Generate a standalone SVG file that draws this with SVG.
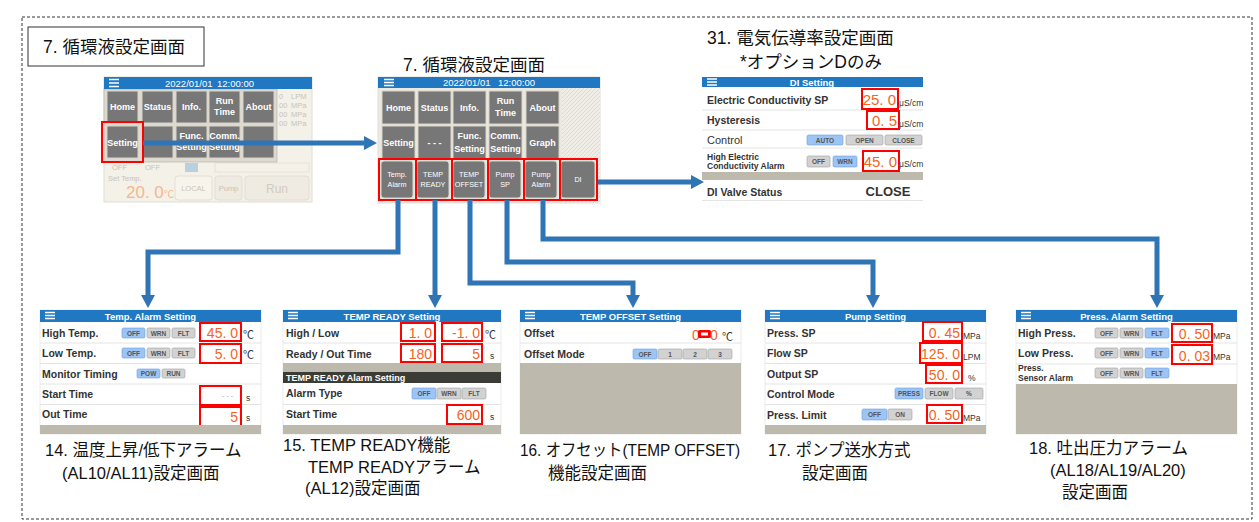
<svg xmlns="http://www.w3.org/2000/svg" width="1259" height="522" viewBox="0 0 1259 522">
<defs>
<style>
.cap{font-family:"Liberation Sans","Noto Sans CJK JP",sans-serif;font-size:16.5px;fill:#111}
.ttl{font-family:"Liberation Sans","Noto Sans CJK JP",sans-serif;font-size:17.5px;fill:#111}
.hdr{fill:#1f78c1}
.ht{font-family:"Liberation Sans",sans-serif;font-weight:bold;font-size:9.5px;fill:#fff;text-anchor:middle}
.clk{font-family:"Liberation Sans",sans-serif;font-size:9.5px;fill:#fff}
.ham{stroke:#fff;stroke-width:1.5}
.lb{font-family:"Liberation Sans",sans-serif;font-weight:bold;font-size:10.5px;fill:#333}
.lbs{font-family:"Liberation Sans",sans-serif;font-weight:bold;font-size:8.5px;fill:#333}
.val{font-family:"Liberation Sans",sans-serif;font-size:14px;fill:#f4641e;text-anchor:end}
.vbig{font-family:"Liberation Sans",sans-serif;font-size:15px;fill:#f4641e;text-anchor:end}
.rb{fill:#fff;stroke:#f00;stroke-width:2}
.u{font-family:"Liberation Sans",sans-serif;font-size:8.5px;fill:#333}
.deg{font-family:"Liberation Sans","Noto Sans CJK JP",sans-serif;font-size:11px;fill:#333}
.sb{fill:#d2d2d2;stroke:#a0a0a0;stroke-width:.6}
.sbo{fill:#9cc4f4;stroke:#6d9de0;stroke-width:.6}
.st{font-family:"Liberation Sans",sans-serif;font-weight:bold;font-size:6.5px;fill:#555;text-anchor:middle}
.band{fill:#bdb9ad}
.sep{stroke:#e4e4e4;stroke-width:1}
.scr{fill:#fff;stroke:#ddd;stroke-width:.6}
.mb{fill:#777;stroke:#d8d4c8;stroke-width:1}
.mt{font-family:"Liberation Sans",sans-serif;font-weight:bold;font-size:9px;fill:#fff;text-anchor:middle}
.mt2{font-family:"Liberation Sans",sans-serif;font-size:7.2px;fill:#fff;text-anchor:middle}
.con{fill:none;stroke:#2f74b5;stroke-width:5}
.fd{font-family:"Liberation Sans",sans-serif;font-size:7.5px;fill:#c8c4b8}
.red{fill:none;stroke:#f00;stroke-width:2}
</style>
<marker id="ah" viewBox="0 0 13 14" markerWidth="13" markerHeight="14" refX="0" refY="7" orient="auto" markerUnits="userSpaceOnUse"><path d="M0,0 L13,7 L0,14 Z" fill="#2f74b5"/></marker>
<pattern id="hatch" width="4" height="4" patternUnits="userSpaceOnUse"><rect width="4" height="4" fill="#efede6"/><path d="M0,4 L4,0" stroke="#dedbd2" stroke-width="1"/></pattern>
</defs>
<rect width="1259" height="522" fill="#fff"/>
<rect x="22" y="17" width="1230" height="502" fill="none" stroke="#333" stroke-width="1" stroke-dasharray="3 2"/>

<g id="title-box">
<rect x="28" y="27" width="176" height="39" fill="#fff" stroke="#333"/>
<text class="ttl" x="43" y="53">7. 循環液設定画面</text>
</g>

<g id="screen-home">
<rect x="104" y="77" width="208" height="125" fill="#f4f1e8" stroke="#e0ddd3"/>
<text class="fd" x="279" y="99">0</text><text class="fd" x="291" y="99">LPM</text>
<text class="fd" x="279" y="108">00</text><text class="fd" x="291" y="108">MPa</text>
<text class="fd" x="279" y="117">00</text><text class="fd" x="291" y="117">MPa</text>
<text class="fd" x="279" y="126">00</text><text class="fd" x="291" y="126">MPa</text>
<text class="fd" x="112" y="170" font-size="6.5">OFF</text>
<text class="fd" x="145" y="170" font-size="6.5">OFF</text>
<rect x="185" y="163" width="13" height="9" fill="#b8d0e0"/>
<rect x="215" y="163" width="94" height="9" fill="none" stroke="#e6e2d8"/>
<text class="fd" x="108" y="181" font-size="6.5" fill="#d8c8b8">Set Temp.</text>
<text x="126" y="198" font-family="Liberation Sans,sans-serif" font-size="17" fill="#f7b690">20. 0</text>
<text x="164" y="198" font-family="Liberation Sans,Noto Sans CJK JP,sans-serif" font-size="10" fill="#f7b690">℃</text>
<rect x="175" y="176" width="37" height="24" rx="3" fill="#f7f4ec" stroke="#e2ded4"/>
<text class="fd" x="193.5" y="191" text-anchor="middle">LOCAL</text>
<rect x="215" y="176" width="27" height="24" rx="3" fill="#efebe2" stroke="#e2ded4"/>
<text class="fd" x="228.5" y="191" text-anchor="middle">Pump</text>
<rect x="245" y="176" width="64" height="24" rx="3" fill="#efebe2" stroke="#e2ded4"/>
<text x="277" y="193" text-anchor="middle" font-family="Liberation Sans,sans-serif" font-size="12" fill="#d0ccc0">Run</text>
<rect x="104" y="89" width="173" height="73" fill="#dedad0" stroke="#aaa" stroke-width=".6"/>
<rect class="mb" x="107" y="91" width="31" height="32"/><text class="mt" x="122.5" y="110">Home</text>
<rect class="mb" x="142" y="91" width="31" height="32"/><text class="mt" x="157.5" y="110">Status</text>
<rect class="mb" x="176" y="91" width="31" height="32"/><text class="mt" x="191.5" y="110">Info.</text>
<rect class="mb" x="209" y="91" width="31" height="32"/><text class="mt" x="224.5" y="104">Run</text><text class="mt" x="224.5" y="115">Time</text>
<rect class="mb" x="243" y="91" width="31" height="32"/><text class="mt" x="258.5" y="110">About</text>
<rect class="mb" x="107" y="126" width="31" height="32"/><text class="mt" x="122.5" y="146">Setting</text>
<rect class="mb" x="142" y="126" width="31" height="32"/>
<rect class="mb" x="176" y="126" width="31" height="32"/><text class="mt" x="191.5" y="139">Func.</text><text class="mt" x="191.5" y="150">Setting</text>
<rect class="mb" x="209" y="126" width="31" height="32"/><text class="mt" x="224.5" y="139">Comm.</text><text class="mt" x="224.5" y="150">Setting</text>
<rect class="mb" x="243" y="126" width="31" height="32"/>
<rect class="hdr" x="104" y="77" width="208" height="12"/>
<path class="ham" d="M109,79.5H119M109,83H119M109,86.5H119"/>
<text class="clk" x="165" y="86.5">2022/01/01</text><text class="clk" x="217" y="86.5">12:00:00</text>
<rect class="red" x="102" y="122" width="41" height="40"/>
</g>

<g id="screen-main-title"><text class="ttl" x="403" y="71">7. 循環液設定画面</text></g>
<g id="screen-main">
<rect x="378" y="77" width="222" height="126" fill="#ebe8df" stroke="#ddd"/>
<rect x="562" y="88" width="38" height="115" fill="url(#hatch)"/>
<rect class="hdr" x="378" y="77" width="222" height="11"/>
<path class="ham" d="M384,79.5H394M384,82.5H394M384,85.5H394"/>
<text class="clk" x="443" y="86">2022/01/01</text><text class="clk" x="498" y="86">12:00:00</text>
<rect class="mb" x="382" y="91" width="33" height="33"/><text class="mt" x="398.5" y="111">Home</text>
<rect class="mb" x="418" y="91" width="33" height="33"/><text class="mt" x="434.5" y="111">Status</text>
<rect class="mb" x="453" y="91" width="33" height="33"/><text class="mt" x="469.5" y="111">Info.</text>
<rect class="mb" x="489" y="91" width="33" height="33"/><text class="mt" x="505.5" y="104">Run</text><text class="mt" x="505.5" y="116">Time</text>
<rect class="mb" x="526" y="91" width="33" height="33"/><text class="mt" x="542.5" y="111">About</text>
<rect class="mb" x="382" y="126" width="33" height="33"/><text class="mt" x="398.5" y="146">Setting</text>
<rect class="mb" x="418" y="126" width="33" height="33"/><text class="mt" x="434.5" y="146">- - -</text>
<rect class="mb" x="453" y="126" width="33" height="33"/><text class="mt" x="469.5" y="139">Func.</text><text class="mt" x="469.5" y="152">Setting</text>
<rect class="mb" x="489" y="126" width="33" height="33"/><text class="mt" x="505.5" y="139">Comm.</text><text class="mt" x="505.5" y="152">Setting</text>
<rect class="mb" x="526" y="126" width="33" height="33"/><text class="mt" x="542.5" y="146">Graph</text>
<rect class="mb" x="381" y="161" width="32" height="37" rx="3"/><text class="mt2" x="397" y="177">Temp.</text><text class="mt2" x="397" y="187">Alarm</text>
<rect class="mb" x="417" y="161" width="32" height="37" rx="3"/><text class="mt2" x="433" y="177">TEMP</text><text class="mt2" x="433" y="187">READY</text>
<rect class="mb" x="453" y="161" width="32" height="37" rx="3"/><text class="mt2" x="469" y="177">TEMP</text><text class="mt2" x="469" y="187">OFFSET</text>
<rect class="mb" x="489" y="161" width="32" height="37" rx="3"/><text class="mt2" x="505" y="177">Pump</text><text class="mt2" x="505" y="187">SP</text>
<rect class="mb" x="525" y="161" width="32" height="37" rx="3"/><text class="mt2" x="541" y="177">Pump</text><text class="mt2" x="541" y="187">Alarm</text>
<rect class="mb" x="561" y="161" width="34" height="37" rx="3"/><text class="mt2" x="578" y="182">DI</text>
<rect class="red" x="379" y="159" width="37" height="41"/>
<rect class="red" x="416" y="159" width="36" height="41"/>
<rect class="red" x="452" y="159" width="36" height="41"/>
<rect class="red" x="488" y="159" width="36" height="41"/>
<rect class="red" x="524" y="159" width="36" height="41"/>
<rect class="red" x="560" y="159" width="37" height="41"/>
</g>

<g id="screen-di-title">
<text class="ttl" x="707" y="44">31. 電気伝導率設定画面</text>
<text class="ttl" x="740" y="68">*オプションDのみ</text>
</g>
<g id="screen-di">
<rect x="702" y="77" width="221" height="124" fill="#fff"/>
<rect class="hdr" x="702" y="77" width="221" height="10"/>
<path class="ham" d="M707,79H717M707,82H717M707,85H717" stroke-width="1.3"/>
<text class="ht" x="812" y="85.5">DI Setting</text>
<path class="sep" d="M702,110H923M702,130H923M702,148H923M702,200.5H923"/>
<rect class="band" x="702" y="172" width="221" height="8"/>
<text class="lb" x="707" y="104" font-size="11">Electric Conductivity SP</text>
<text class="lb" x="707" y="124" font-size="11">Hysteresis</text>
<text x="707" y="144" font-family="Liberation Sans,sans-serif" font-size="11" fill="#333">Control</text>
<text class="lbs" x="707" y="160" font-size="7">High Electric</text>
<text class="lbs" x="707" y="169" font-size="7">Conductivity Alarm</text>
<text class="lb" x="707" y="196" font-size="11">DI Valve Status</text>
<text x="888" y="196" text-anchor="middle" font-family="Liberation Sans,sans-serif" font-weight="bold" font-size="13" fill="#333">CLOSE</text>
<rect class="rb" x="862" y="89" width="36" height="20"/><text class="vbig" x="896" y="105">25. 0</text>
<rect class="rb" x="867" y="111" width="32" height="18"/><text class="vbig" x="897" y="126">0. 5</text>
<rect class="rb" x="863" y="151" width="36" height="20"/><text class="vbig" x="897" y="167">45. 0</text>
<text class="u" x="899" y="106" font-size="7.5">μS/cm</text>
<text class="u" x="899" y="127" font-size="7.5">μS/cm</text>
<text class="u" x="899" y="167" font-size="7.5">μS/cm</text>
<rect class="sbo" x="807" y="135" width="36" height="10" rx="1.5"/><text class="st" x="825" y="142.5">AUTO</text>
<rect class="sb" x="846" y="135" width="37" height="10" rx="1.5"/><text class="st" x="864.5" y="142.5">OPEN</text>
<rect class="sb" x="885" y="135" width="37" height="10" rx="1.5"/><text class="st" x="903.5" y="142.5">CLOSE</text>
<rect class="sb" x="807" y="156" width="23" height="11" rx="1.5"/><text class="st" x="818.5" y="164">OFF</text>
<rect class="sbo" x="833" y="156" width="24" height="11" rx="1.5"/><text class="st" x="845" y="164">WRN</text>
</g>

<g id="screen-temp-alarm">
<rect class="scr" x="40" y="310" width="221" height="124"/>
<rect class="hdr" x="40" y="310" width="221" height="12"/>
<path class="ham" d="M45,312.5H55M45,315.5H55M45,318.5H55" stroke-width="1.3"/>
<text class="ht" x="150.5" y="319.5">Temp. Alarm Setting</text>
<path class="sep" d="M40,343H261M40,363.5H261M40,384H261M40,404.5H261"/>
<text class="lb" x="42" y="337">High Temp.</text>
<text class="lb" x="42" y="357">Low Temp.</text>
<text class="lb" x="42" y="378">Monitor Timing</text>
<text class="lb" x="42" y="398">Start Time</text>
<text class="lb" x="42" y="418">Out Time</text>
<rect class="sbo" x="122" y="328" width="23" height="10" rx="1.5"/><text class="st" x="133.5" y="335.5">OFF</text>
<rect class="sb" x="147" y="328" width="23" height="10" rx="1.5"/><text class="st" x="158.5" y="335.5">WRN</text>
<rect class="sb" x="172" y="328" width="23" height="10" rx="1.5"/><text class="st" x="183.5" y="335.5">FLT</text>
<rect class="sbo" x="122" y="348" width="23" height="10" rx="1.5"/><text class="st" x="133.5" y="355.5">OFF</text>
<rect class="sb" x="147" y="348" width="23" height="10" rx="1.5"/><text class="st" x="158.5" y="355.5">WRN</text>
<rect class="sb" x="172" y="348" width="23" height="10" rx="1.5"/><text class="st" x="183.5" y="355.5">FLT</text>
<rect class="sbo" x="137" y="369" width="23" height="9" rx="1.5"/><text class="st" x="148.5" y="376">POW</text>
<rect class="sb" x="162" y="369" width="23" height="9" rx="1.5"/><text class="st" x="173.5" y="376">RUN</text>
<rect class="rb" x="200" y="323" width="41" height="18"/><text class="val" x="238" y="338">45. 0</text>
<rect class="rb" x="200" y="344" width="41" height="19"/><text class="val" x="238" y="359">5. 0</text>
<rect class="rb" x="200" y="386" width="41" height="19"/><text x="233" y="398" text-anchor="end" font-family="Liberation Sans,sans-serif" font-size="7" fill="#aaa">- - -</text>
<rect class="rb" x="200" y="407" width="41" height="19"/><text class="val" x="238" y="422">5</text>
<text class="deg" x="243" y="339">℃</text>
<text class="deg" x="243" y="359">℃</text>
<text class="u" x="246" y="401">s</text>
<text class="u" x="246" y="421">s</text>
<rect class="band" x="40" y="425" width="221" height="9"/>
</g>

<g id="screen-temp-ready">
<rect class="scr" x="283" y="310" width="218" height="124"/>
<rect class="hdr" x="283" y="310" width="218" height="12"/>
<path class="ham" d="M288,312.5H298M288,315.5H298M288,318.5H298" stroke-width="1.3"/>
<text class="ht" x="392" y="319.5">TEMP READY Setting</text>
<path class="sep" d="M283,343H501M283,404.5H501"/>
<text class="lb" x="286" y="337">High / Low</text>
<text class="lb" x="286" y="358">Ready / Out Time</text>
<rect class="rb" x="401" y="323" width="34" height="18"/><text class="val" x="432" y="338">1. 0</text>
<rect class="rb" x="442" y="323" width="40" height="18"/><text class="val" x="480" y="338">-1. 0</text>
<rect class="rb" x="401" y="344" width="34" height="18"/><text class="val" x="432" y="359">180</text>
<rect class="rb" x="442" y="344" width="40" height="18"/><text class="val" x="480" y="359">5</text>
<text class="deg" x="485" y="339">℃</text>
<text class="u" x="490" y="359">s</text>
<rect class="band" x="283" y="363" width="218" height="9"/>
<rect x="283" y="372" width="218" height="11" fill="#3c3c36"/>
<text x="286" y="380.5" font-family="Liberation Sans,sans-serif" font-weight="bold" font-size="9" fill="#fff">TEMP READY Alarm Setting</text>
<text class="lb" x="286" y="397">Alarm Type</text>
<rect class="sbo" x="412" y="388" width="24" height="11" rx="1.5"/><text class="st" x="424" y="396">OFF</text>
<rect class="sb" x="437" y="388" width="24" height="11" rx="1.5"/><text class="st" x="449" y="396">WRN</text>
<rect class="sb" x="462" y="388" width="24" height="11" rx="1.5"/><text class="st" x="474" y="396">FLT</text>
<text class="lb" x="286" y="418">Start Time</text>
<rect class="rb" x="447" y="405" width="35" height="19"/><text class="val" x="480" y="420">600</text>
<text class="u" x="490" y="420">s</text>
<rect class="band" x="283" y="425" width="218" height="9"/>
</g>

<g id="screen-temp-offset">
<rect class="scr" x="520" y="310" width="221" height="124"/>
<rect class="hdr" x="520" y="310" width="221" height="12"/>
<path class="ham" d="M525,312.5H535M525,315.5H535M525,318.5H535" stroke-width="1.3"/>
<text class="ht" x="630.5" y="319.5">TEMP OFFSET Setting</text>
<path class="sep" d="M520,343H741"/>
<text class="lb" x="524" y="337">Offset</text>
<text class="lb" x="524" y="358">Offset Mode</text>
<text x="696" y="340" text-anchor="middle" font-family="Liberation Sans,sans-serif" font-size="14" fill="#f4641e">0</text>
<rect x="698" y="330" width="13" height="8" rx="1.5" fill="#f00"/>
<rect x="701" y="332.5" width="7" height="3" fill="#fff"/>
<text x="714" y="340" text-anchor="middle" font-family="Liberation Sans,sans-serif" font-size="14" fill="#f4641e">0</text>
<text class="deg" x="722" y="341">℃</text>
<rect class="sbo" x="633" y="349" width="24" height="10" rx="1.5"/><text class="st" x="645" y="356.5">OFF</text>
<rect class="sb" x="658" y="349" width="24" height="10" rx="1.5"/><text class="st" x="670" y="356.5">1</text>
<rect class="sb" x="683" y="349" width="24" height="10" rx="1.5"/><text class="st" x="695" y="356.5">2</text>
<rect class="sb" x="708" y="349" width="24" height="10" rx="1.5"/><text class="st" x="720" y="356.5">3</text>
<rect class="band" x="520" y="363" width="221" height="71"/>
</g>

<g id="screen-pump">
<rect class="scr" x="765" y="310" width="221" height="124"/>
<rect class="hdr" x="765" y="310" width="221" height="12"/>
<path class="ham" d="M770,312.5H780M770,315.5H780M770,318.5H780" stroke-width="1.3"/>
<text class="ht" x="875.5" y="319.5">Pump Setting</text>
<path class="sep" d="M765,343H986M765,363.5H986M765,384H986M765,404.5H986"/>
<text class="lb" x="767" y="337">Press. SP</text>
<text class="lb" x="767" y="357">Flow SP</text>
<text class="lb" x="767" y="378">Output SP</text>
<text class="lb" x="767" y="398">Control Mode</text>
<text class="lb" x="767" y="419">Press. Limit</text>
<rect class="rb" x="923" y="322" width="39" height="19"/><text class="val" x="960" y="338">0. 45</text>
<rect class="rb" x="920" y="343" width="42" height="20"/><text class="val" x="960" y="359">125. 0</text>
<rect class="rb" x="926" y="365" width="36" height="18"/><text class="val" x="960" y="380">50. 0</text>
<rect class="rb" x="927" y="405" width="35" height="18"/><text class="val" x="960" y="420">0. 50</text>
<text class="u" x="963" y="339">MPa</text>
<text class="u" x="963" y="360">LPM</text>
<text class="u" x="968" y="381">%</text>
<text class="u" x="963" y="421">MPa</text>
<rect class="sbo" x="895" y="388" width="28" height="11" rx="1.5"/><text class="st" x="909" y="396">PRESS</text>
<rect class="sb" x="925" y="388" width="28" height="11" rx="1.5"/><text class="st" x="939" y="396">FLOW</text>
<rect class="sb" x="955" y="388" width="28" height="11" rx="1.5"/><text class="st" x="969" y="396">%</text>
<rect class="sbo" x="862" y="409" width="25" height="11" rx="1.5"/><text class="st" x="874.5" y="417">OFF</text>
<rect class="sb" x="888" y="409" width="24" height="11" rx="1.5"/><text class="st" x="900" y="417">ON</text>
<rect class="band" x="765" y="425" width="221" height="9"/>
</g>

<g id="screen-press-alarm">
<rect class="scr" x="1016" y="310" width="221" height="124"/>
<rect class="hdr" x="1016" y="310" width="221" height="12"/>
<path class="ham" d="M1021,312.5H1031M1021,315.5H1031M1021,318.5H1031" stroke-width="1.3"/>
<text class="ht" x="1126.5" y="319.5">Press. Alarm Setting</text>
<path class="sep" d="M1016,343H1237M1016,364H1237"/>
<text class="lb" x="1018" y="337">High Press.</text>
<text class="lb" x="1018" y="357">Low Press.</text>
<text class="lbs" x="1018" y="371">Press.</text>
<text class="lbs" x="1018" y="381">Sensor Alarm</text>
<rect class="sb" x="1095" y="328" width="23" height="10" rx="1.5"/><text class="st" x="1106.5" y="335.5">OFF</text>
<rect class="sb" x="1120" y="328" width="23" height="10" rx="1.5"/><text class="st" x="1131.5" y="335.5">WRN</text>
<rect class="sbo" x="1145" y="328" width="24" height="10" rx="1.5"/><text class="st" x="1157" y="335.5">FLT</text>
<rect class="sb" x="1095" y="348" width="23" height="10" rx="1.5"/><text class="st" x="1106.5" y="355.5">OFF</text>
<rect class="sb" x="1120" y="348" width="23" height="10" rx="1.5"/><text class="st" x="1131.5" y="355.5">WRN</text>
<rect class="sbo" x="1145" y="348" width="24" height="10" rx="1.5"/><text class="st" x="1157" y="355.5">FLT</text>
<rect class="sb" x="1095" y="368" width="23" height="10" rx="1.5"/><text class="st" x="1106.5" y="375.5">OFF</text>
<rect class="sb" x="1120" y="368" width="23" height="10" rx="1.5"/><text class="st" x="1131.5" y="375.5">WRN</text>
<rect class="sbo" x="1145" y="368" width="24" height="10" rx="1.5"/><text class="st" x="1157" y="375.5">FLT</text>
<rect class="rb" x="1172" y="324" width="40" height="18"/><text class="val" x="1210" y="339">0. 50</text>
<rect class="rb" x="1172" y="345" width="40" height="19"/><text class="val" x="1210" y="361">0. 03</text>
<text class="u" x="1213" y="339">MPa</text>
<text class="u" x="1213" y="360">MPa</text>
<rect class="band" x="1016" y="384" width="221" height="50"/>
</g>

<g id="captions">
<text class="cap" x="45" y="456">14. 温度上昇/低下アラーム</text>
<text class="cap" x="62" y="479">(AL10/AL11)設定画面</text>
<text class="cap" x="283" y="451">15. TEMP READY機能</text>
<text class="cap" x="308" y="473">TEMP READYアラーム</text>
<text class="cap" x="305" y="494">(AL12)設定画面</text>
<text class="cap" x="520" y="456" textLength="220" lengthAdjust="spacingAndGlyphs">16. オフセット(TEMP OFFSET)</text>
<text class="cap" x="548" y="479">機能設定画面</text>
<text class="cap" x="768" y="456">17. ポンプ送水方式</text>
<text class="cap" x="802" y="479">設定画面</text>
<text class="cap" x="1029" y="454">18. 吐出圧力アラーム</text>
<text class="cap" x="1050" y="476">(AL18/AL19/AL20)</text>
<text class="cap" x="1062" y="498">設定画面</text>
</g>

<g id="connectors">
<path class="con" d="M143,143H364" marker-end="url(#ah)"/>
<path class="con" d="M598,182H691" marker-end="url(#ah)"/>
<path class="con" d="M398,200V252H148V295" marker-end="url(#ah)"/>
<path class="con" d="M435,200V295" marker-end="url(#ah)"/>
<path class="con" d="M470,200V283H633V295" marker-end="url(#ah)"/>
<path class="con" d="M507,200V262H873V295" marker-end="url(#ah)"/>
<path class="con" d="M543,200V239H1157V295" marker-end="url(#ah)"/>
</g>
</svg>
